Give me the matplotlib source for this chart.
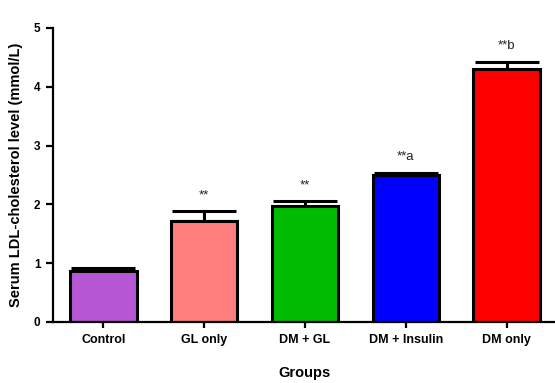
import matplotlib
matplotlib.use("Agg")
import matplotlib.pyplot as plt

groups = ["Control", "GL only", "DM + GL", "DM + Insulin", "DM only"]
means = [0.87, 1.72, 1.98, 2.50, 4.31]
errors = [0.04, 0.16, 0.07, 0.04, 0.11]
colors = ["#B857D6", "#FF7F7F", "#00BB00", "#0000FF", "#FF0000"]
annotations = ["", "**", "**", "**a", "**b"]
yticks = [0, 1, 2, 3, 4, 5]

plt.rcParams['font.family'] = ['Liberation Sans', 'DejaVu Sans']

fig = plt.figure(figsize=(5.55, 3.83), dpi=100)
ax = fig.add_axes([0.0955, 0.1593, 0.9045, 0.7676])

x = list(range(len(groups)))
ax.bar(x, means, width=0.66, color=colors, edgecolor="black", linewidth=2.2, zorder=2)
ax.errorbar(x, means, yerr=[[0] * len(errors), errors], fmt="none", ecolor="black",
            elinewidth=2.2, capsize=23, capthick=2.2, zorder=1)
for xi, m, e, t in zip(x, means, errors, annotations):
    if t:
        ax.annotate(t, (xi, m + e), xytext=(0, 7), textcoords="offset points",
                    ha="center", va="bottom", fontsize=9.5, color="#222222")

ax.set_xlim(-0.5, 4.48)
ax.set_ylim(0, 5)
ax.set_yticks(yticks)
ax.set_xticks(x)
ax.set_xticklabels(groups, fontsize=9, fontweight="bold")
for lab in ax.get_yticklabels():
    lab.set_fontweight("bold")
    lab.set_fontsize(8.5)
ax.spines["top"].set_visible(False)
ax.spines["right"].set_visible(False)
ax.spines["left"].set_linewidth(1.6)
ax.spines["bottom"].set_linewidth(1.6)
ax.tick_params(axis="y", length=5, width=1.6, pad=4)
ax.tick_params(axis="x", length=4, width=1.6, pad=5)
ax.set_ylabel("Serum LDL-cholesterol level (mmol/L)", fontsize=10.5, fontweight="bold", labelpad=8)
ax.set_xlabel("Groups", fontsize=10.5, fontweight="bold", labelpad=14)

fig.savefig("out.png", dpi=100)
